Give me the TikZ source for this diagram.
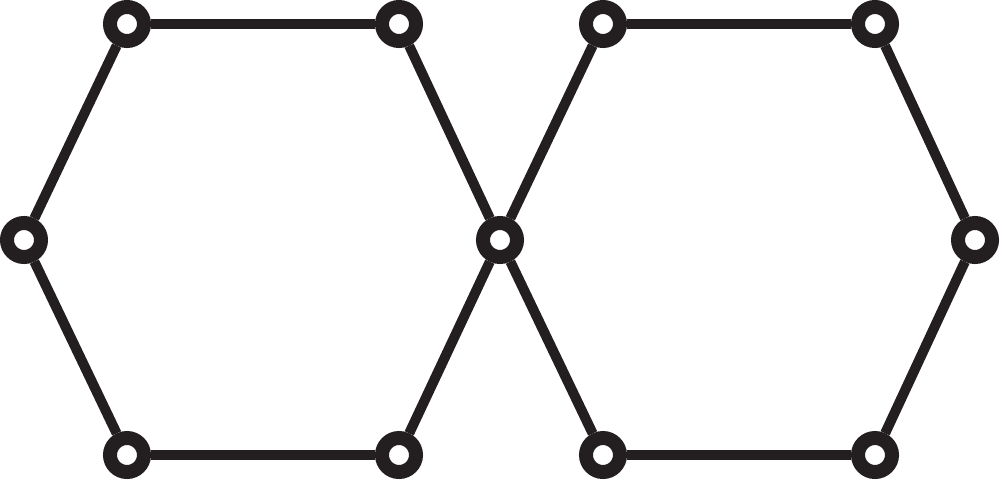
\documentclass[tikz,border=0pt]{standalone}
\definecolor{ink}{RGB}{35,31,32}
\begin{document}
\begin{tikzpicture}[vertex/.style={circle, draw=ink, fill=white, line width=14pt, minimum size=34pt, inner sep=0pt}, bond/.style={ink, line width=10pt}]
\useasboundingbox (0pt,0pt) rectangle (1000pt,-480pt);
\node[vertex] (a1) at (127pt,-24pt) {};
\node[vertex] (a2) at (399pt,-24pt) {};
\node[vertex] (m) at (500pt,-240pt) {};
\node[vertex] (a4) at (399pt,-455pt) {};
\node[vertex] (a5) at (127pt,-455pt) {};
\node[vertex] (a6) at (24pt,-240pt) {};
\node[vertex] (b1) at (603pt,-24pt) {};
\node[vertex] (b2) at (875pt,-24pt) {};
\node[vertex] (b3) at (975pt,-240pt) {};
\node[vertex] (b4) at (875pt,-455pt) {};
\node[vertex] (b5) at (603pt,-455pt) {};
\draw[bond] (a1) -- (a2);
\draw[bond] (a2) -- (m);
\draw[bond] (m) -- (a4);
\draw[bond] (a4) -- (a5);
\draw[bond] (a5) -- (a6);
\draw[bond] (a6) -- (a1);
\draw[bond] (m) -- (b1);
\draw[bond] (b1) -- (b2);
\draw[bond] (b2) -- (b3);
\draw[bond] (b3) -- (b4);
\draw[bond] (b4) -- (b5);
\draw[bond] (b5) -- (m);
\end{tikzpicture}
\end{document}
